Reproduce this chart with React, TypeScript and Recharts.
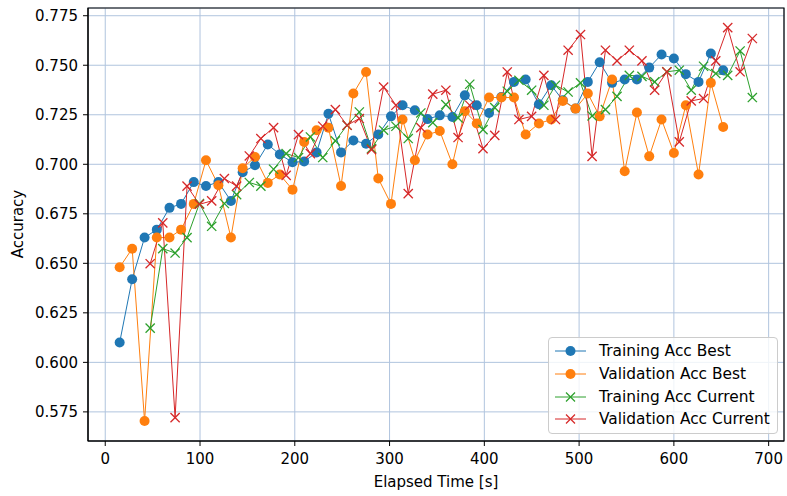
import { LineChart, Line, XAxis, YAxis, CartesianGrid, Legend, ReferenceArea } from "recharts";

// times (s) of the "best" and "current" records
const bestTimes = [
  15.2, 28.4, 41.5, 54.4, 67.8, 80, 93.4, 106.3, 119.4, 132.6, 145, 158, 171.5, 184.2, 197.6, 209.9, 223,
  235.5, 248.8, 261.8, 275.2, 288.1, 301.5, 313.7, 326.7, 340, 353, 366.3, 379.4, 392, 405, 418, 431.3,
  443.6, 457.6, 470.6, 482.8, 496.2, 509.2, 521.7, 534.8, 548.1, 561, 574, 587, 600, 612.6, 626, 639, 652,
];
const currentTimes = [
  47.4, 60.7, 73.7, 86.3, 99.4, 112.3, 125.7, 138.6, 152, 164.2, 177.6, 190.9, 203.9, 216.5, 229.5, 242.8,
  255.2, 268.1, 281, 293.7, 306.7, 319.7, 333, 345.6, 359.4, 372.3, 384.6, 398.6, 411, 424.2, 436.5, 449.9,
  462.8, 475.1, 488.4, 501.5, 513.7, 527.8, 540, 553, 566.3, 579.7, 592.6, 605.7, 618.3, 631.3, 644.2,
  656.8, 669.9, 682.8,
];

const trainingBest = [
  0.61, 0.642, 0.663, 0.667, 0.678, 0.68, 0.691, 0.689, 0.691, 0.6815, 0.696, 0.6995, 0.71, 0.705, 0.701,
  0.7014, 0.706, 0.7255, 0.706, 0.712, 0.7104, 0.715, 0.7242, 0.7298, 0.7273, 0.7228, 0.7247, 0.7239,
  0.7348, 0.7298, 0.7259, 0.734, 0.7416, 0.7428, 0.7303, 0.7399, 0.7323, 0.7281, 0.7416, 0.7515, 0.7411,
  0.7428, 0.7428, 0.7488, 0.7554, 0.7534, 0.7455, 0.7416, 0.7559, 0.7475,
];
const validationBest = [
  0.648, 0.6574, 0.5704, 0.663, 0.663, 0.667, 0.68, 0.702, 0.6894, 0.663, 0.698, 0.7037, 0.6906, 0.6948,
  0.6872, 0.7113, 0.7172, 0.7185, 0.689, 0.7357, 0.7466, 0.6928, 0.68, 0.7226, 0.702, 0.715, 0.7168, 0.7,
  0.7268, 0.7206, 0.7337, 0.7337, 0.7337, 0.715, 0.7206, 0.7226, 0.732, 0.7281, 0.7357, 0.7242, 0.7428,
  0.6965, 0.7261, 0.704, 0.7226, 0.7057, 0.7298, 0.6948, 0.7411, 0.7188,
];
const trainingCurrent = [
  0.6173, 0.6574, 0.6552, 0.663, 0.6802, 0.6687, 0.6802, 0.6847, 0.6908, 0.689, 0.6975, 0.7054, 0.7034,
  0.7138, 0.7034, 0.7118, 0.7197, 0.7264, 0.7079, 0.7172, 0.7192, 0.713, 0.7259, 0.721, 0.7301, 0.7234,
  0.7404, 0.7175, 0.7286, 0.7369, 0.7424, 0.7374, 0.7298, 0.7399, 0.7365, 0.7411, 0.7244, 0.7276, 0.7343,
  0.7449, 0.7444, 0.7416, 0.7467, 0.7475, 0.7374, 0.7495, 0.7458, 0.7449, 0.7572, 0.7337,
];
const validationCurrent = [
  0.6498, 0.6704, 0.5721, 0.689, 0.6798, 0.6815, 0.6928, 0.689, 0.7042, 0.713, 0.7185, 0.6944, 0.715,
  0.7054, 0.7192, 0.7276, 0.7197, 0.7231, 0.7074, 0.739, 0.7298, 0.6852, 0.7185, 0.7354, 0.7374, 0.7135,
  0.7298, 0.7079, 0.7146, 0.7466, 0.7226, 0.7242, 0.7449, 0.7226, 0.7576, 0.7655, 0.704, 0.7576, 0.7522,
  0.7576, 0.7522, 0.7374, 0.7467, 0.7113, 0.732, 0.7332, 0.7522, 0.769, 0.7467, 0.7635,
];

const xTicks = [0, 100, 200, 300, 400, 500, 600, 700];
const yTicks = [0.575, 0.6, 0.625, 0.65, 0.675, 0.7, 0.725, 0.75, 0.775];

const X_DOMAIN: [number, number] = [-18.2, 716.2];
const Y_DOMAIN: [number, number] = [0.5603, 0.7789];

const FONT = "'DejaVu Sans', sans-serif";

const series = [
  { name: "Training Acc Best", color: "#1f77b4", marker: "o", times: bestTimes, values: trainingBest },
  { name: "Validation Acc Best", color: "#ff7f0e", marker: "o", times: bestTimes, values: validationBest },
  { name: "Training Acc Current", color: "#2ca02c", marker: "x", times: currentTimes, values: trainingCurrent },
  { name: "Validation Acc Current", color: "#d62728", marker: "x", times: currentTimes, values: validationCurrent },
];

function makeDot(color: string, marker: string) {
  return (props: any) => {
    const { cx, cy, index } = props;
    if (cx == null || cy == null) return <g key={index} />;
    if (marker === "o") {
      return <circle key={index} cx={cx} cy={cy} r={5} fill={color} />;
    }
    const s = 4.6;
    return (
      <g key={index} stroke={color} strokeWidth={1.3}>
        <line x1={cx - s} y1={cy - s} x2={cx + s} y2={cy + s} />
        <line x1={cx - s} y1={cy + s} x2={cx + s} y2={cy - s} />
      </g>
    );
  };
}

function LegendBox() {
  return (
    <div
      style={{
        width: 230,
        height: 97,
        boxSizing: "border-box",
        background: "rgba(255,255,255,0.8)",
        border: "1px solid #cccccc",
        borderRadius: 4,
        padding: "2px 0 0 0",
        fontFamily: FONT,
        fontSize: 15.4,
        color: "#000",
      }}
    >
      {series.map((s) => (
        <div key={s.name} style={{ display: "flex", alignItems: "center", height: 22.7 }}>
          <svg width={50} height={20} style={{ flex: "none" }}>
            <line x1={6} y1={10} x2={37} y2={10} stroke={s.color} strokeWidth={1} />
            {s.marker === "o" ? (
              <circle cx={21.5} cy={10} r={5} fill={s.color} />
            ) : (
              <g stroke={s.color} strokeWidth={1.3}>
                <line x1={17} y1={5.5} x2={26} y2={14.5} />
                <line x1={17} y1={14.5} x2={26} y2={5.5} />
              </g>
            )}
          </svg>
          <span style={{ whiteSpace: "nowrap" }}>{s.name}</span>
        </div>
      ))}
    </div>
  );
}

export default function App() {
  const tickStyle = { fill: "#000", fontSize: 15, fontFamily: FONT };
  return (
    <div style={{ position: "absolute", left: 0, top: 0, width: 787, height: 496, background: "#fff" }}>
      <LineChart width={787} height={496} margin={{ top: 8, right: 3, left: 0, bottom: 0 }}>
        <CartesianGrid stroke="#b0c4de" strokeWidth={1} />
        <XAxis
          type="number"
          dataKey="t"
          domain={X_DOMAIN}
          ticks={xTicks}
          allowDataOverflow
          height={55}
          tickSize={5}
          tickMargin={7}
          stroke="#000"
          tick={tickStyle}
          label={{ value: "Elapsed Time [s]", position: "insideBottom", offset: 9, fill: "#000", fontSize: 15, fontFamily: FONT }}
        />
        <YAxis
          type="number"
          domain={Y_DOMAIN}
          ticks={yTicks}
          allowDataOverflow
          width={88}
          tickSize={5}
          tickMargin={5}
          stroke="#000"
          tick={tickStyle}
          tickFormatter={(v: number) => v.toFixed(3)}
          label={{
            content: () => (
              <text
                x={18}
                y={224}
                transform="rotate(-90 18 224)"
                textAnchor="middle"
                dominantBaseline="central"
                fill="#000"
                fontSize={15}
                fontFamily={FONT}
              >
                Accuracy
              </text>
            ),
          }}
        />
        <ReferenceArea
          x1={X_DOMAIN[0]}
          x2={X_DOMAIN[1]}
          y1={Y_DOMAIN[0]}
          y2={Y_DOMAIN[1]}
          fill="none"
          stroke="#000"
          strokeWidth={1.2}
          ifOverflow="visible"
        />
        {series.map((s) => (
          <Line
            key={s.name}
            name={s.name}
            data={s.times.map((t, i) => ({ t, v: s.values[i] }))}
            dataKey="v"
            type="linear"
            stroke={s.color}
            strokeWidth={1}
            dot={makeDot(s.color, s.marker)}
            activeDot={false}
            isAnimationActive={false}
          />
        ))}
        <Legend
          layout="vertical"
          align="center"
          verticalAlign="middle"
          content={() => <LegendBox />}
          wrapperStyle={{ left: 548, top: 337, width: 230, height: 97 }}
        />
      </LineChart>
    </div>
  );
}
